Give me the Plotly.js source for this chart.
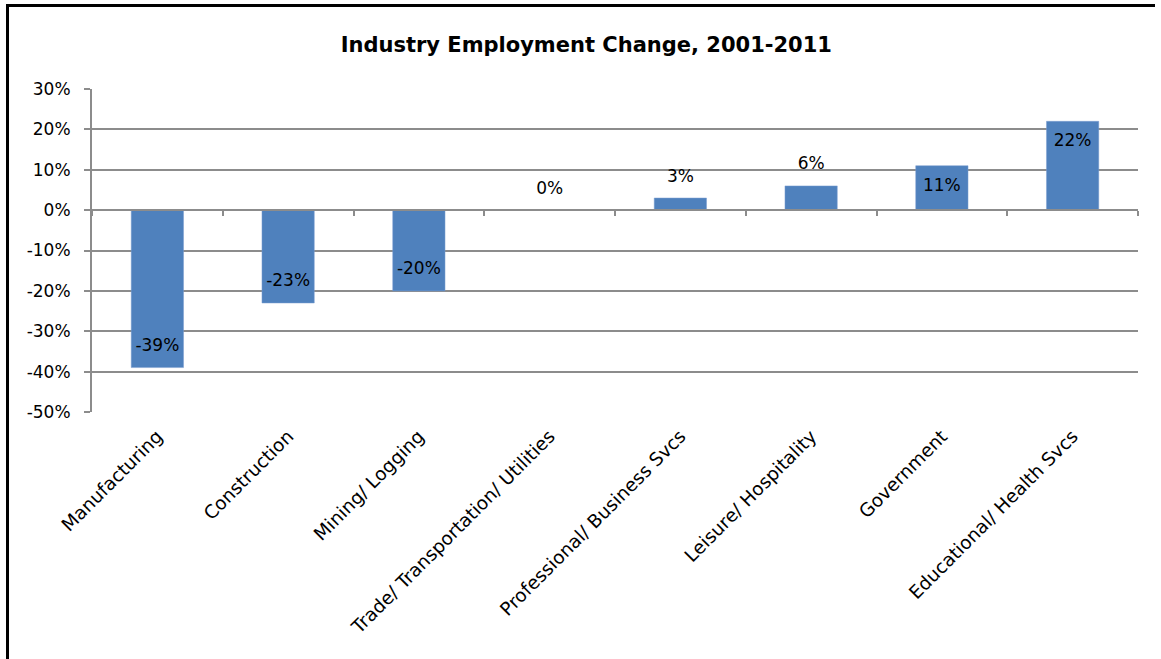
<!DOCTYPE html>
<html>
<head>
<meta charset="utf-8">
<script src="https://cdn.plot.ly/plotly-3.0.1.min.js"></script>
<style>
  html, body { margin: 0; padding: 0; background: #fff; }
  #wrap { position: relative; width: 1161px; height: 659px; overflow: hidden; }
  #chart { position: absolute; left: 0; top: 0; width: 1161px; height: 659px; }
  #frame { position: absolute; left: 6px; top: 4px; width: 1146px; height: 700px;
           border-left: 3px solid #000; border-top: 3px solid #000; pointer-events: none; }
</style>
</head>
<body>
<div id="wrap">
  <div id="chart"></div>
  <div id="frame"></div>
</div>
<script>
const categories = [
  "Manufacturing",
  "Construction",
  "Mining/ Logging",
  "Trade/ Transportation/ Utilities",
  "Professional/ Business Svcs",
  "Leisure/ Hospitality",
  "Government",
  "Educational/ Health Svcs"
];
const changePct = [-39, -23, -20, 0, 3, 6, 11, 22];
const yTickVals = [-50, -40, -30, -20, -10, 0, 10, 20, 30];
const yTickText = ["-50%", "-40%", "-30%", "-20%", "-10%", "0%", "10%", "20%", "30%"];
const chartTitle = "Industry Employment Change, 2001-2011";

const FONT = "DejaVu Sans, Liberation Sans, Arial, sans-serif";

const bars = {
  type: "bar",
  x: categories,
  y: changePct,
  marker: { color: "#4f81bd", line: { color: "#7d9fd0", width: 0.5 } },
  hoverinfo: "x+y",
  showlegend: false
};

const labels = {
  type: "scatter",
  mode: "markers+text",
  x: categories,
  y: changePct,
  text: changePct.map(v => v + "%"),
  textposition: changePct.map(v => v >= 10 ? "bottom center" : "top center"),
  textfont: { family: FONT, size: 17, color: "#000" },
  marker: { size: 18, opacity: 0 },
  cliponaxis: false,
  hoverinfo: "skip",
  showlegend: false
};

const axisHelper = {
  type: "bar",
  x: categories,
  y: categories.map(() => null),
  xaxis: "x2",
  yaxis: "y",
  showlegend: false,
  hoverinfo: "skip"
};

const layout = {
  width: 1161,
  height: 659,
  margin: { l: 92, r: 23, t: 89, b: 247 },
  paper_bgcolor: "#fff",
  plot_bgcolor: "#fff",
  bargap: 0.6,
  font: { family: FONT, size: 17, color: "#000" },
  title: {
    text: "<b>" + chartTitle + "</b>",
    font: { family: FONT, size: 21, color: "#000" },
    x: 0.505, xanchor: "center",
    y: 1 - 45 / 659, yanchor: "middle"
  },
  xaxis: {
    type: "category",
    categoryarray: categories,
    range: [-0.5, categories.length - 0.5],
    tickangle: -45,
    ticks: "",
    showgrid: false,
    showline: false,
    zeroline: false,
    tickfont: { family: FONT, size: 18.5, color: "#000" },
    ticklabelstandoff: 9,
    fixedrange: true
  },
  xaxis2: {
    type: "category",
    categoryarray: categories,
    range: [-0.5, categories.length - 0.5],
    overlaying: "x",
    anchor: "free",
    position: 50 / 80,
    side: "bottom",
    showticklabels: false,
    ticks: "outside",
    tickson: "boundaries",
    ticklen: 5,
    tickwidth: 2,
    tickcolor: "#8c8c8c",
    showline: true,
    linecolor: "#8c8c8c",
    linewidth: 2,
    showgrid: false,
    zeroline: false,
    fixedrange: true
  },
  yaxis: {
    range: [-50, 30],
    tickvals: yTickVals,
    ticktext: yTickText,
    ticks: "outside",
    ticklen: 6,
    tickwidth: 2,
    tickcolor: "#8c8c8c",
    showline: true,
    linecolor: "#8c8c8c",
    linewidth: 2,
    showgrid: true,
    gridcolor: "#8c8c8c",
    gridwidth: 2,
    zeroline: false,
    tickfont: { family: FONT, size: 17, color: "#000" },
    ticklabelstandoff: 10,
    fixedrange: true
  },
  showlegend: false
};

Plotly.newPlot("chart", [axisHelper, bars, labels], layout, { displayModeBar: false, staticPlot: true });
</script>
</body>
</html>
